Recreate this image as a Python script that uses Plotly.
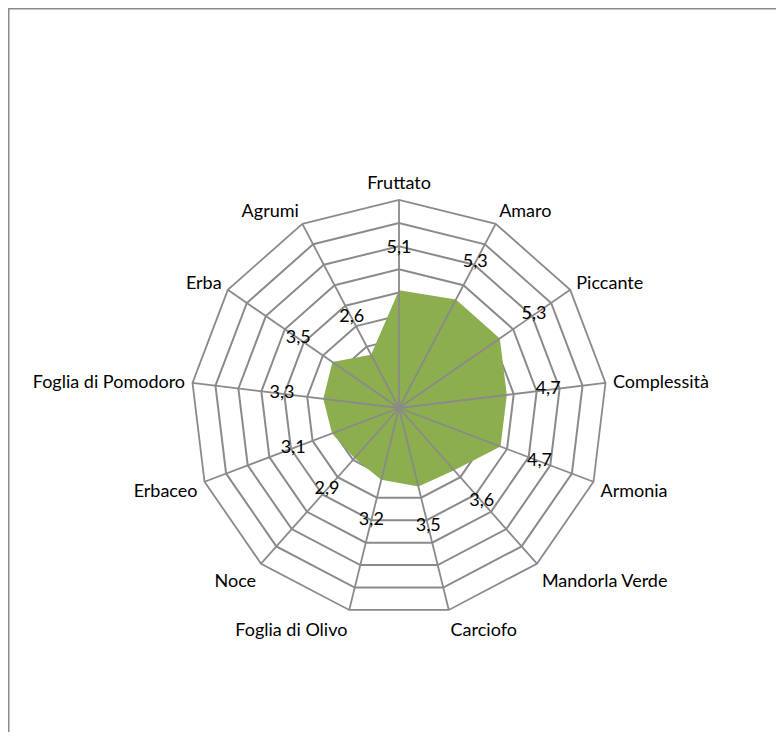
import plotly.graph_objects as go

categories = ["Fruttato", "Amaro", "Piccante", "Complessità", "Armonia",
              "Mandorla Verde", "Carciofo", "Foglia di Olivo", "Noce",
              "Erbaceo", "Foglia di Pomodoro", "Erba", "Agrumi"]
values = [5.1, 5.3, 5.3, 4.7, 4.7, 3.6, 3.5, 3.2, 2.9, 3.1, 3.3, 3.5, 2.6]
value_labels = ["5,1", "5,3", "5,3", "4,7", "4,7", "3,6", "3,5", "3,2", "2,9",
                "3,1", "3,3", "3,5", "2,6"]
r_max = 9
label_offset = 1.8

GRID = "#8a8a8a"
FONT = "Lato"

fig = go.Figure()

# filled area
fig.add_trace(go.Scatterpolar(
    r=values + [values[0]], theta=categories + [categories[0]],
    mode="lines", fill="toself", fillcolor="#8cae4f",
    line=dict(color="rgba(0,0,0,0)", width=0), hoverinfo="skip",
    showlegend=False))

# spokes drawn above the fill
sr, st = [], []
for c in categories:
    sr += [0, r_max, None]
    st += [c, c, None]
fig.add_trace(go.Scatterpolar(
    r=sr, theta=st, mode="lines", line=dict(color=GRID, width=1.8),
    connectgaps=False, hoverinfo="skip", showlegend=False))

# data labels
fig.add_trace(go.Scatterpolar(
    r=[v + label_offset for v in values], theta=categories, mode="text",
    text=value_labels, textfont=dict(family=FONT, size=18, color="#000000"),
    hoverinfo="skip", showlegend=False))

# page has an 8px body margin: figure pixel (0,0) sits at page (8,8)
OFF = 8
W, H = 784 - 2 * OFF, 740 - 2 * OFF
cx, cy, rad = 399 - OFF, 408 - OFF, 208
fig.update_layout(
    width=W, height=H, margin=dict(l=0, r=0, t=0, b=0),
    paper_bgcolor="white", plot_bgcolor="white",
    font=dict(family=FONT, size=18, color="#000000"),
    showlegend=False,
    polar=dict(
        domain=dict(x=[(cx - rad) / W, (cx + rad) / W],
                    y=[(H - cy - rad) / H, (H - cy + rad) / H]),
        gridshape="linear", bgcolor="white",
        radialaxis=dict(range=[0, r_max], dtick=1, showticklabels=False,
                        ticks="", showline=False, gridcolor=GRID, gridwidth=1.8),
        angularaxis=dict(direction="clockwise", rotation=90,
                         categoryorder="array", categoryarray=categories,
                         showgrid=False, showline=True, linecolor=GRID,
                         linewidth=1.8, ticks="outside", ticklen=3,
                         tickcolor="rgba(0,0,0,0)",
                         tickfont=dict(family=FONT, size=18, color="#000000")),
    ),
    shapes=[
        dict(type="line", xref="paper", yref="paper",
             x0=0, x1=1.0, y0=1 - 0.5 / H, y1=1 - 0.5 / H,
             line=dict(color=GRID, width=2)),
        dict(type="line", xref="paper", yref="paper",
             x0=0.5 / W, x1=0.5 / W, y0=0, y1=1,
             line=dict(color=GRID, width=2)),
    ],
)

fig.write_html("out.html")
